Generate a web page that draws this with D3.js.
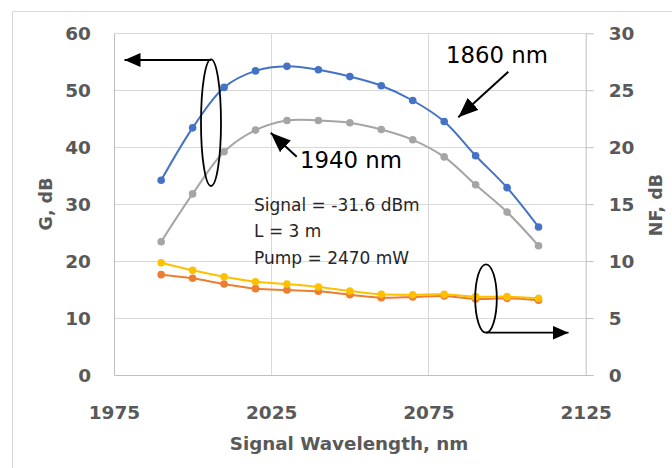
<!DOCTYPE html>
<html><head><meta charset="utf-8">
<script src="https://cdn.jsdelivr.net/npm/d3@7"></script>
<style>
html,body{margin:0;padding:0;background:#fff;}
svg{display:block;}
</style></head>
<body>
<svg id="chart" width="672" height="468"></svg>
<script>
const wavelengths = [1990,2000,2010,2020,2030,2040,2050,2060,2070,2080,2090,2100,2110];
const gain1860 = [34.2,43.4,50.5,53.4,54.2,53.6,52.4,50.8,48.2,44.5,38.5,32.9,26.0];
const gain1940 = [23.4,31.8,39.2,43.0,44.7,44.7,44.3,43.1,41.3,38.3,33.4,28.6,22.7];
const nf1860 = [8.81,8.49,7.99,7.58,7.46,7.35,7.05,6.79,6.85,6.94,6.67,6.73,6.56];
const nf1940 = [9.86,9.19,8.63,8.19,7.99,7.73,7.37,7.08,7.05,7.08,6.88,6.88,6.73];
const xTicks = [1975,2025,2075,2125];
const yLeftTicks = [0,10,20,30,40,50,60];
const yRightTicks = [0,5,10,15,20,25,30];
const noteLines = ["Signal = -31.6 dBm","L = 3 m","Pump = 2470 mW"];

const svg = d3.select("#chart");
const L = 114, R = 585.7, T = 33.3, B = 375;
const x = d3.scaleLinear().domain([1975,2125]).range([L,R]);
const yL = d3.scaleLinear().domain([0,60]).range([B,T]);
const yR = d3.scaleLinear().domain([0,30]).range([B,T]);

// outer border
svg.append("path").attr("d","M12.5,468 V11.5 H672").attr("fill","none").attr("stroke","#d9d9d9").attr("stroke-width",1);

// gridlines
const grid = svg.append("g");
grid.selectAll("line.h").data(yLeftTicks.slice(1)).join("line")
  .attr("x1",L).attr("x2",R).attr("y1",d=>Math.round(yL(d))+0.5).attr("y2",d=>Math.round(yL(d))+0.5)
  .attr("stroke","#d9d9d9").attr("stroke-width",1);
grid.selectAll("line.v").data([2025,2075]).join("line")
  .attr("y1",T).attr("y2",B).attr("x1",d=>Math.round(x(d))+0.5).attr("x2",d=>Math.round(x(d))+0.5)
  .attr("stroke","#d9d9d9").attr("stroke-width",1);

const tickFont = "'DejaVu Sans', sans-serif";

// left axis
const gL = svg.append("g").attr("transform",`translate(${L},0)`)
  .call(d3.axisLeft(yL).tickValues(yLeftTicks).tickSize(0).tickSizeOuter(0).tickPadding(23));
gL.select(".domain").attr("stroke","#bfbfbf");
gL.selectAll("text").attr("font-family",tickFont).attr("font-weight","bold").attr("font-size","18.5px").attr("fill","#595959").attr("dy","0.36em");

// right axis
const gR = svg.append("g").attr("transform",`translate(${R},0)`)
  .call(d3.axisRight(yR).tickValues(yRightTicks).tickSize(8).tickSizeOuter(0).tickPadding(15));
gR.select(".domain").attr("stroke","#bfbfbf");
gR.selectAll("line").attr("stroke","#bfbfbf");
gR.selectAll("text").attr("font-family",tickFont).attr("font-weight","bold").attr("font-size","18.5px").attr("fill","#595959").attr("dy","0.36em");

// bottom axis
const gB = svg.append("g").attr("transform",`translate(0,${B})`)
  .call(d3.axisBottom(x).tickValues(xTicks).tickFormat(d3.format("d")).tickSize(0).tickSizeOuter(0).tickPadding(0));
gB.select(".domain").attr("stroke","#bfbfbf");
gB.selectAll("text").attr("font-family",tickFont).attr("font-weight","bold").attr("font-size","18.5px").attr("fill","#595959").attr("y",43.5).attr("dy",0);

// axis titles
svg.append("text").attr("x",349).attr("y",450).attr("text-anchor","middle")
  .attr("font-family",tickFont).attr("font-weight","bold").attr("font-size","18.3px").attr("fill","#595959")
  .text("Signal Wavelength, nm");
svg.append("text").attr("transform","translate(52,204) rotate(-90)").attr("text-anchor","middle")
  .attr("font-family",tickFont).attr("font-weight","bold").attr("font-size","17.5px").attr("fill","#595959")
  .text("G, dB");
svg.append("text").attr("transform","translate(662,205) rotate(-90)").attr("text-anchor","middle")
  .attr("font-family",tickFont).attr("font-weight","bold").attr("font-size","17.5px").attr("fill","#595959")
  .text("NF, dB");

// series
const series = [
  {vals:gain1860, y:yL, color:"#4472C4"},
  {vals:gain1940, y:yL, color:"#A5A5A5"},
  {vals:nf1860, y:yR, color:"#ED7D31"},
  {vals:nf1940, y:yR, color:"#FFC000"}
];
series.forEach(s=>{
  const pts = wavelengths.map((w,i)=>[w,s.vals[i]]);
  const line = d3.line().x(d=>x(d[0])).y(d=>s.y(d[1])).curve(d3.curveCatmullRom.alpha(0.5));
  svg.append("path").datum(pts).attr("d",line).attr("fill","none").attr("stroke",s.color).attr("stroke-width",2);
  svg.append("g").selectAll("circle").data(pts).join("circle")
    .attr("cx",d=>x(d[0])).attr("cy",d=>s.y(d[1])).attr("r",3.8).attr("fill",s.color);
});

// annotations
const defs = svg.append("defs");
defs.append("marker").attr("id","ah").attr("viewBox","0 0 16 14").attr("refX",16).attr("refY",7)
  .attr("markerWidth",16).attr("markerHeight",14).attr("markerUnits","userSpaceOnUse").attr("orient","auto")
  .append("path").attr("d","M0,0 L16,7 L0,14 Z").attr("fill","#000");
defs.append("marker").attr("id","ah2").attr("viewBox","0 0 20 16").attr("refX",20).attr("refY",8)
  .attr("markerWidth",20).attr("markerHeight",16).attr("markerUnits","userSpaceOnUse").attr("orient","auto")
  .append("path").attr("d","M0,0 L20,8 L0,16 Z").attr("fill","#000");

const ann = svg.append("g").attr("fill","none").attr("stroke","#000").attr("stroke-width",1.8);
ann.append("ellipse").attr("cx",211).attr("cy",122.7).attr("rx",10).attr("ry",63.3);
ann.append("line").attr("x1",211).attr("y1",60).attr("x2",124.5).attr("y2",60).attr("marker-end","url(#ah)");
ann.append("ellipse").attr("cx",486).attr("cy",298.5).attr("rx",10.8).attr("ry",34.2);
ann.append("line").attr("x1",486).attr("y1",332.7).attr("x2",568.5).attr("y2",332.7).attr("marker-end","url(#ah)");
ann.append("line").attr("x1",508.3).attr("y1",71.7).attr("x2",458.3).attr("y2",117.3).attr("stroke-width",2).attr("marker-end","url(#ah2)");
ann.append("line").attr("x1",296.7).attr("y1",156.7).attr("x2",270.7).attr("y2",132.7).attr("stroke-width",2).attr("marker-end","url(#ah2)");

const labelFont = "'DejaVu Sans', sans-serif";
svg.append("text").attr("x",446).attr("y",63.3).attr("font-family",labelFont).attr("font-size","22.8px").attr("fill","#000").text("1860 nm");
svg.append("text").attr("x",300).attr("y",168.3).attr("font-family",labelFont).attr("font-size","22.8px").attr("fill","#000").text("1940 nm");
svg.append("g").selectAll("text").data(noteLines).join("text")
  .attr("x",254).attr("y",(d,i)=>210.7+i*26.7).attr("font-family",labelFont).attr("font-size","17px").attr("fill","#262626").text(d=>d);
</script>
</body></html>
